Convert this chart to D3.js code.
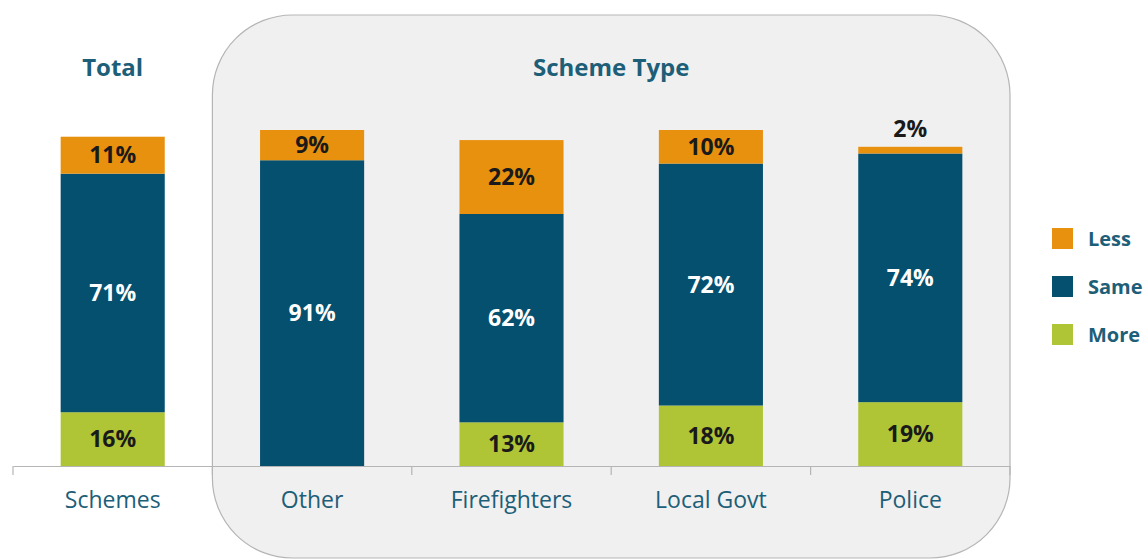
<!DOCTYPE html>
<html>
<head>
<meta charset="utf-8">
<script src="https://cdn.jsdelivr.net/npm/d3@7"></script>
<style>
  html, body { margin: 0; padding: 0; background: #fff; }
  svg { display: block; }
  text { font-family: "Open Sans", Lato, sans-serif; }
</style>
</head>
<body>
<svg id="chart" width="1148" height="559"></svg>
<script>
// Categories and stacked shares (%)
const categories = ["Schemes", "Other", "Firefighters", "Local Govt", "Police"];
const moreVals = [16, 0, 13, 18, 19];
const sameVals = [71, 91, 62, 72, 74];
const lessVals = [11, 9, 22, 10, 2];
const seriesNames = ["More", "Same", "Less"];
const legendOrder = ["Less", "Same", "More"];
const groupTitles = [
  { text: "Total", from: 0, to: 0 },
  { text: "Scheme Type", from: 1, to: 4 }
];

const colors = { Less: "#E8910E", Same: "#04506E", More: "#AFC536" };
const labelColors = { Less: "#1a1a1a", Same: "#ffffff", More: "#1a1a1a" };
const teal = "#1D5E78";

const rows = categories.map((c, i) => ({
  category: c, More: moreVals[i], Same: sameVals[i], Less: lessVals[i]
}));

const svg = d3.select("#chart");

const x = d3.scaleBand().domain(categories).range([13, 1010]).paddingInner(0.478).paddingOuter(0.239);
const y = d3.scaleLinear().domain([0, 100]).range([466, 130]);

// Shaded panel behind the scheme-type group
const panelX0 = x.range()[0] + x.step();
svg.append("rect")
  .attr("x", panelX0).attr("y", 15)
  .attr("width", x.range()[1] - panelX0).attr("height", 543)
  .attr("rx", 80).attr("ry", 80)
  .attr("fill", "#f0f0f0").attr("stroke", "#b5b5b5").attr("stroke-width", 1.2);

// Stacked bars
const stack = d3.stack().keys(seriesNames);
const layers = stack(rows);

const g = svg.append("g");
layers.forEach(layer => {
  const key = layer.key;
  g.selectAll(null).data(layer).enter().append("rect")
    .attr("x", d => x(d.data.category))
    .attr("width", x.bandwidth())
    .attr("y", d => y(d[1]))
    .attr("height", d => y(d[0]) - y(d[1]))
    .attr("fill", colors[key]);

  // Value labels; thin segments get their label above the bar
  g.selectAll(null).data(layer.filter(d => d.data[key] > 0)).enter().append("text")
    .attr("x", d => x(d.data.category) + x.bandwidth() / 2)
    .attr("y", d => {
      const h = y(d[0]) - y(d[1]);
      return h < 20 ? y(d[1]) - 18 : (y(d[0]) + y(d[1])) / 2;
    })
    .attr("dy", "0.36em")
    .attr("text-anchor", "middle")
    .attr("font-size", 23).attr("font-weight", 700)
    .attr("fill", d => (y(d[0]) - y(d[1]) < 20) ? "#1a1a1a" : labelColors[key])
    .text(d => d.data[key] + "%");
});

// Category axis with ticks at the boundaries between categories
const axis = d3.axisBottom(x).tickSize(0).tickPadding(26);
const axG = svg.append("g").attr("transform", `translate(0,${y(0)})`).call(axis);
axG.select(".domain").attr("stroke", "#b5b5b5").attr("stroke-width", 1.2);
axG.selectAll(".tick text")
  .attr("font-size", 23).attr("fill", teal)
  .style("font-family", "'Open Sans', Lato, sans-serif");
const bounds = d3.range(categories.length + 1).map(i => x.range()[0] + i * x.step());
axG.selectAll(".bound").data(bounds).enter().append("line")
  .attr("class", "bound")
  .attr("x1", d => d).attr("x2", d => d)
  .attr("y1", 0).attr("y2", 9)
  .attr("stroke", "#b5b5b5").attr("stroke-width", 1.2);

// Group titles
svg.selectAll(".gtitle").data(groupTitles).enter().append("text")
  .attr("x", d => (x(categories[d.from]) + x(categories[d.to]) + x.bandwidth()) / 2)
  .attr("y", 67).attr("dy", "0.36em")
  .attr("text-anchor", "middle")
  .attr("font-size", 24).attr("font-weight", 700).attr("fill", teal)
  .text(d => d.text);

// Legend
const leg = svg.append("g").attr("transform", "translate(1052,228)");
const li = leg.selectAll("g").data(legendOrder).enter().append("g")
  .attr("transform", (d, i) => `translate(0,${i * 48})`);
li.append("rect").attr("width", 21).attr("height", 21).attr("fill", d => colors[d]);
li.append("text").attr("x", 36).attr("y", 10.5).attr("dy", "0.36em")
  .attr("font-size", 20).attr("font-weight", 700).attr("fill", teal)
  .text(d => d);
</script>
</body>
</html>
